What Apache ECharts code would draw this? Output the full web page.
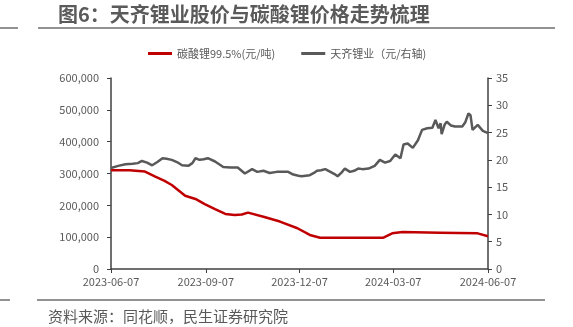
<!DOCTYPE html>
<html>
<head>
<meta charset="utf-8">
<script src="https://cdn.jsdelivr.net/npm/echarts@6/dist/echarts.min.js"></script>
<style>
  html, body { margin: 0; padding: 0; background: #fff; }
  #chart { width: 573px; height: 327px; }
</style>
</head>
<body>
<div id="chart"></div>
<script>
// 碳酸锂99.5% 价格 (元/吨)
const lithiumDates = [
  "2023-06-07", "2023-06-25", "2023-07-10", "2023-07-20", "2023-07-29", "2023-08-05",
  "2023-08-18", "2023-08-28", "2023-09-06", "2023-09-16", "2023-09-26", "2023-10-05",
  "2023-10-12", "2023-10-18", "2023-11-02", "2023-11-18", "2023-12-05", "2023-12-17",
  "2023-12-27", "2024-02-26", "2024-03-06", "2024-03-16", "2024-04-21", "2024-05-28",
  "2024-06-07"
];
const lithiumValues = [
  310000, 310000, 306000, 290000, 277000, 264000,
  230000, 220000, 204000, 188000, 173000, 170000,
  171000, 177000, 164000, 149000, 128000, 107000,
  98000, 98000, 112000, 116000, 114000, 112000,
  103000
];

// 天齐锂业 股价 (元, 右轴)
const stockDates = [
  "2023-06-07", "2023-06-14", "2023-06-21", "2023-06-28", "2023-07-03", "2023-07-07",
  "2023-07-12", "2023-07-17", "2023-07-22", "2023-07-27", "2023-07-31", "2023-08-05",
  "2023-08-10", "2023-08-15", "2023-08-21", "2023-08-25", "2023-08-28", "2023-09-01",
  "2023-09-05", "2023-09-09", "2023-09-16", "2023-09-20", "2023-09-24", "2023-10-01",
  "2023-10-08", "2023-10-15", "2023-10-22", "2023-10-27", "2023-11-02", "2023-11-08",
  "2023-11-15", "2023-11-21", "2023-11-26", "2023-12-01", "2023-12-06", "2023-12-09",
  "2023-12-13", "2023-12-17", "2023-12-21", "2023-12-24", "2023-12-28", "2024-01-01",
  "2024-01-06", "2024-01-10", "2024-01-13", "2024-01-17", "2024-01-20", "2024-01-25",
  "2024-01-29", "2024-02-02", "2024-02-06", "2024-02-12", "2024-02-18", "2024-02-23",
  "2024-02-28", "2024-03-04", "2024-03-09", "2024-03-14", "2024-03-17", "2024-03-21",
  "2024-03-26", "2024-03-31", "2024-04-04", "2024-04-09", "2024-04-14", "2024-04-17",
  "2024-04-20", "2024-04-22", "2024-04-23", "2024-04-26", "2024-04-28", "2024-05-02",
  "2024-05-06", "2024-05-13", "2024-05-16", "2024-05-19", "2024-05-21", "2024-05-23",
  "2024-05-28", "2024-06-02", "2024-06-07"
];
const stockValues = [
  18.5, 18.9, 19.2, 19.3, 19.4, 19.8,
  19.5, 19.0, 19.6, 20.3, 20.2, 20.0,
  19.6, 19.0, 18.9, 19.4, 20.3, 20.0,
  20.1, 20.3, 19.7, 19.2, 18.7, 18.6,
  18.6, 17.5, 18.3, 17.8, 18.0, 17.6,
  17.8, 17.8, 17.8, 17.3, 17.1, 17.0,
  17.1, 17.2, 17.6, 18.0, 18.1, 18.3,
  17.8, 17.4, 17.0, 17.7, 18.4, 17.8,
  18.0, 18.4, 18.3, 18.4, 18.9, 20.0,
  19.5, 19.8, 21.0, 20.3, 22.8, 23.0,
  22.2, 23.6, 25.5, 25.8, 25.9, 27.3,
  25.8, 26.7, 24.7, 26.5, 27.0, 26.3,
  26.1, 26.1, 26.9, 28.5, 28.2, 25.5,
  26.4, 25.3, 24.9
];

const tickDates = ["2023-06-07", "2023-09-07", "2023-12-07", "2024-03-07", "2024-06-07"];

const seriesNames = ["碳酸锂99.5%(元/吨)", "天齐锂业（元/右轴)"];

// dates as UTC day stamps on a plain value axis
const toTime = (d) => Date.UTC(+d.slice(0, 4), +d.slice(5, 7) - 1, +d.slice(8, 10));
const fmtDate = (t) => new Date(t).toISOString().slice(0, 10);
const FONT = "'Noto Sans CJK SC', 'Noto Sans', sans-serif";
const axisColor = "#404040";
const labelColor = "#595959";

const chart = echarts.init(document.getElementById("chart"));
chart.setOption({
  animation: false,
  textStyle: { fontFamily: FONT },
  grid: { left: 111, right: 85, top: 78, bottom: 58, outerBoundsMode: "none" },
  legend: {
    top: 43,
    left: 143,
    itemWidth: 24,
    itemHeight: 3,
    itemGap: 26,
    icon: "rect",
    textStyle: { color: labelColor, fontSize: 11, fontFamily: FONT },
    data: seriesNames,
  },
  graphic: [
    {
      type: "text",
      left: 58,
      top: 4,
      style: {
        text: "图6：天齐锂业股价与碳酸锂价格走势梳理",
        fill: "#5a5a5a",
        font: "bold 20px " + FONT,
      },
    },
    { type: "line", shape: { x1: 0, y1: 28, x2: 18, y2: 28 }, style: { stroke: "#6e6e6e", lineWidth: 1.5 } },
    { type: "line", shape: { x1: 38, y1: 28, x2: 555, y2: 28 }, style: { stroke: "#6e6e6e", lineWidth: 1.5 } },
    { type: "line", shape: { x1: 0, y1: 300, x2: 10, y2: 300 }, style: { stroke: "#6e6e6e", lineWidth: 1.5 } },
    { type: "line", shape: { x1: 37, y1: 300, x2: 545, y2: 300 }, style: { stroke: "#6e6e6e", lineWidth: 1.5 } },
    {
      type: "text",
      left: 48,
      top: 309,
      style: {
        text: "资料来源：同花顺，民生证券研究院",
        fill: "#595959",
        font: "15px " + FONT,
      },
    },
  ],
  xAxis: {
    type: "value",
    min: toTime(tickDates[0]),
    max: toTime(tickDates[tickDates.length - 1]),
    axisLine: { show: true, lineStyle: { color: axisColor, width: 1.5 } },
    axisTick: { show: true, length: 4, customValues: tickDates.map(toTime), lineStyle: { color: axisColor } },
    axisLabel: {
      color: labelColor,
      fontSize: 11,
      margin: 7,
      customValues: tickDates.map(toTime),
      formatter: (v) => fmtDate(v),
    },
    splitLine: { show: false },
  },
  yAxis: [
    {
      type: "value",
      min: 0,
      max: 600000,
      interval: 100000,
      axisLine: { show: true, lineStyle: { color: axisColor, width: 1.5 } },
      axisTick: { show: true, length: 4, lineStyle: { color: axisColor } },
      axisLabel: {
        color: labelColor,
        fontSize: 11,
        margin: 12,
        formatter: (v) => v.toLocaleString("en-US"),
      },
      splitLine: { show: false },
    },
    {
      type: "value",
      min: 0,
      max: 35,
      interval: 5,
      position: "right",
      axisLine: { show: true, lineStyle: { color: axisColor, width: 1.5 } },
      axisTick: { show: true, length: 4, lineStyle: { color: axisColor } },
      axisLabel: { color: labelColor, fontSize: 11, margin: 8 },
      splitLine: { show: false },
    },
  ],
  series: [
    {
      name: seriesNames[0],
      type: "line",
      yAxisIndex: 0,
      showSymbol: false,
      lineStyle: { color: "#c00000", width: 2.5 },
      itemStyle: { color: "#c00000" },
      data: lithiumDates.map((d, i) => [toTime(d), lithiumValues[i]]),
    },
    {
      name: seriesNames[1],
      type: "line",
      yAxisIndex: 1,
      showSymbol: false,
      lineStyle: { color: "#595959", width: 2.5 },
      itemStyle: { color: "#595959" },
      data: stockDates.map((d, i) => [toTime(d), stockValues[i]]),
    },
  ],
});
</script>
</body>
</html>
